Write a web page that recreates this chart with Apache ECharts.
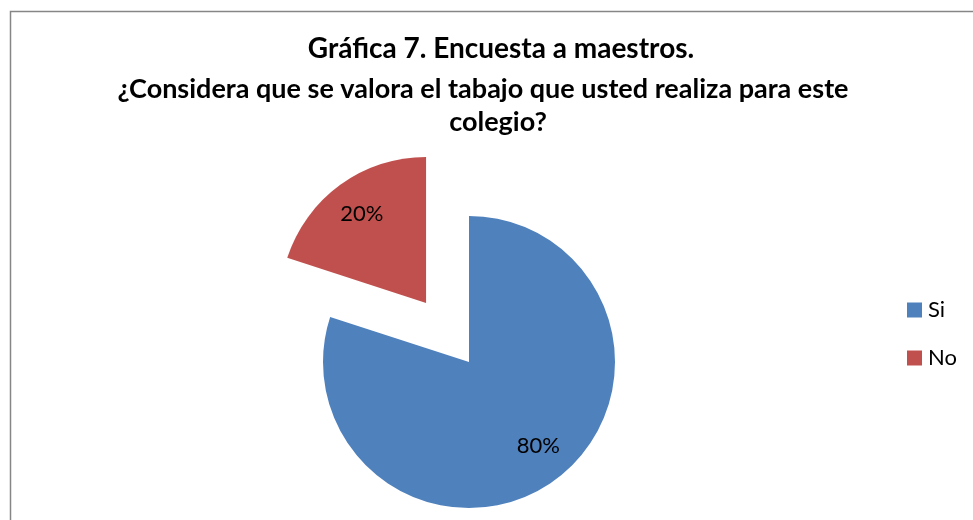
<!DOCTYPE html>
<html>
<head>
<meta charset="utf-8">
<script src="https://cdn.jsdelivr.net/npm/echarts@6/dist/echarts.min.js"></script>
<style>
  html, body { margin: 0; padding: 0; background: #fff; }
  #chart { width: 973px; height: 520px; }
</style>
</head>
<body>
<div id="chart"></div>
<script>
// datos de la encuesta
var categories = ['Si', 'No'];
var values = [80, 20];
var colors = ['#4F81BD', '#C0504D'];
var titleLines = [
    'Gráfica 7. Encuesta a maestros.',
    '¿Considera que se valora el tabajo que usted realiza para este',
    'colegio?'
];

var myChart = echarts.init(document.getElementById('chart'));

var pieData = categories.map(function (name, i) {
    return {
        name: name,
        value: values[i],
        selected: name === 'No',
        itemStyle: { color: colors[i] }
    };
});

// [x centro, top, tamaño]
var titlePos = [[501, 35, 28], [483, 76, 27], [498, 109, 27]];

var option = {
    backgroundColor: '#fff',
    title: titleLines.map(function (t, i) {
        return {
            text: t,
            left: titlePos[i][0],
            top: titlePos[i][1],
            textAlign: 'center',
            padding: 0,
            textStyle: { fontFamily: 'Lato', fontWeight: 'bold', fontSize: titlePos[i][2], color: '#000' }
        };
    }),
    legend: {
        orient: 'vertical',
        left: 907,
        top: 299,
        padding: 0,
        itemWidth: 15,
        itemHeight: 15,
        itemGap: 26,
        icon: 'rect',
        selectedMode: false,
        textStyle: { fontFamily: 'Lato', fontSize: 22, color: '#000', padding: [0, 0, 0, 1] },
        data: categories
    },
    graphic: [{
        type: 'rect',
        shape: { x: 10.5, y: 11.5, width: 1200, height: 800 },
        style: { fill: 'none', stroke: '#868686', lineWidth: 1.5 },
        silent: true
    }],
    series: [{
        type: 'pie',
        center: [469, 362],
        radius: 146,
        startAngle: 90,
        selectedMode: 'single',
        selectedOffset: 73,
        animation: false,
        silent: true,
        label: { show: false },
        labelLine: { show: false },
        data: pieData
    }, {
        // capa transparente solo para colocar las etiquetas mas afuera
        type: 'pie',
        center: [469, 362],
        radius: [0, 213],
        startAngle: 90,
        selectedMode: 'single',
        selectedOffset: 73,
        animation: false,
        silent: true,
        legendHoverLink: false,
        label: {
            show: true,
            position: 'inside',
            formatter: '{c}%',
            fontFamily: 'Lato',
            fontSize: 22,
            color: '#000'
        },
        labelLine: { show: false },
        itemStyle: { color: 'transparent' },
        data: categories.map(function (name, i) {
            var d = { name: name, value: values[i], selected: name === 'No' };
            if (name === 'Si') d.label = { offset: [5, -5] };
            return d;
        })
    }]
};
myChart.setOption(option);
</script>
</body>
</html>
